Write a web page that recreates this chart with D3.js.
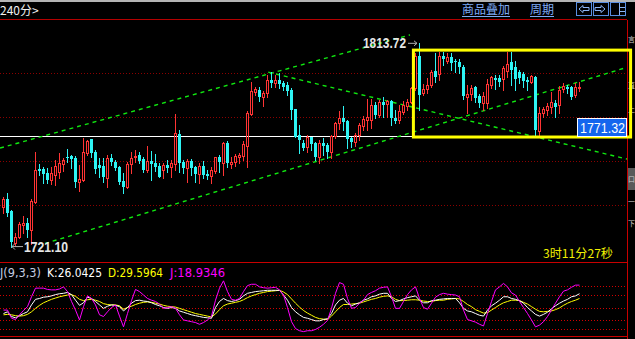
<!DOCTYPE html>
<html>
<head>
<meta charset="utf-8">
<script src="https://cdn.jsdelivr.net/npm/d3@7"></script>
<style>
  html, body { margin: 0; padding: 0; background: #000; }
  svg { display: block; }
</style>
</head>
<body>
<div id="chart"></div>
<script>
// 240 minute candles
const openP = [1739.1,1742.7,1737.3,1722.8,1725.6,1730.9,1731.9,1728.6,1741.5,1756.2,
  1756.5,1754.4,1751.4,1753.6,1755.1,1758.6,1761.7,1762.3,1761.5,1750.6,
  1751.4,1763.8,1769.9,1764.2,1758.2,1757.7,1752.1,1761.5,1759.7,1757.4,
  1750.9,1748.3,1758.6,1761.7,1762.9,1760.8,1755.9,1760.0,1758.9,1757.7,
  1755.9,1758.2,1757.1,1758.6,1772.3,1759.5,1756.7,1760.1,1757.1,1754.1,
  1757.7,1754.1,1753.2,1755.6,1761.9,1759.2,1768.3,1758.6,1759.7,1761.7,
  1762.3,1766.8,1781.2,1791.5,1792.3,1789.0,1791.0,1796.8,1795.6,1796.8,
  1795.6,1794.5,1792.3,1783.5,1771.8,1768.3,1766.5,1770.8,1768.3,1762.0,
  1768.3,1767.3,1764.2,1771.4,1777.1,1779.4,1778.2,1770.3,1768.8,1771.8,
  1775.9,1778.6,1778.6,1785.5,1780.9,1787.0,1785.8,1787.3,1779.7,1778.6,
  1782.4,1785.0,1787.0,1793.0,1807.7,1791.0,1792.6,1794.5,1800.9,1799.5,
  1807.7,1805.6,1807.4,1805.6,1805.1,1802.9,1789.2,1790.5,1793.5,1789.5,
  1786.2,1786.5,1794.5,1797.6,1797.6,1797.1,1801.0,1805.1,1802.9,1800.6,
  1799.5,1796.8,1796.0,1798.3,1773.8,1781.9,1783.2,1784.7,1786.5,1785.5,
  1792.6,1793.5,1793.5,1789.9,1793.0];
const highP = [1743.6,1745.5,1737.7,1727.3,1732.4,1735.0,1733.9,1742.7,1764.2,1758.6,
  1757.4,1756.7,1757.1,1760.5,1763.8,1761.2,1765.3,1762.7,1762.3,1758.2,
  1770.6,1769.6,1769.9,1765.0,1761.2,1761.2,1762.7,1763.2,1760.5,1757.7,
  1754.4,1759.7,1764.2,1765.0,1764.2,1761.9,1766.8,1764.5,1763.2,1758.9,
  1758.9,1760.5,1760.5,1781.4,1774.1,1760.5,1761.0,1760.8,1757.7,1758.9,
  1760.0,1755.9,1757.1,1761.9,1762.7,1768.8,1769.1,1761.9,1763.0,1763.5,
  1769.2,1782.9,1796.0,1793.8,1793.5,1791.8,1799.1,1800.6,1799.1,1799.9,
  1796.5,1795.8,1793.0,1783.7,1776.4,1769.6,1771.8,1771.0,1768.8,1769.6,
  1770.3,1768.0,1771.8,1777.9,1782.7,1785.0,1778.6,1771.0,1772.6,1777.1,
  1780.5,1788.0,1788.0,1787.0,1787.7,1789.2,1787.7,1787.7,1783.2,1785.5,
  1787.3,1788.0,1793.8,1808.9,1813.72,1795.0,1797.6,1801.4,1809.2,1809.7,
  1809.7,1809.2,1809.2,1806.2,1806.2,1803.6,1794.5,1794.5,1794.1,1790.5,
  1791.5,1797.1,1798.6,1799.1,1799.1,1803.2,1809.7,1809.7,1805.6,1801.4,
  1800.6,1798.0,1799.1,1798.6,1784.7,1784.7,1786.2,1791.5,1787.7,1794.1,
  1795.3,1794.5,1794.1,1795.6,1796.0];
const lowP = [1736.4,1735.0,1721.1,1721.8,1724.9,1727.2,1725.6,1722.3,1740.8,1753.6,
  1749.8,1749.8,1749.5,1749.1,1752.1,1755.6,1759.7,1756.7,1748.0,1746.5,
  1751.0,1762.7,1762.0,1754.4,1752.9,1750.6,1748.3,1758.2,1755.9,1749.5,
  1745.6,1747.6,1754.4,1759.7,1758.9,1755.1,1755.1,1751.4,1755.6,1752.6,
  1752.1,1755.1,1752.9,1755.9,1755.1,1754.5,1750.6,1753.6,1750.6,1749.8,
  1752.1,1751.8,1749.8,1754.4,1755.1,1753.6,1757.4,1756.7,1757.7,1758.9,
  1760.5,1757.4,1780.9,1790.0,1787.4,1785.1,1789.2,1793.8,1793.8,1793.0,
  1792.3,1790.0,1779.0,1770.8,1763.5,1765.0,1764.2,1765.0,1760.5,1758.9,
  1762.7,1761.2,1761.2,1770.3,1774.4,1774.1,1765.8,1766.5,1766.8,1769.6,
  1774.1,1774.1,1774.9,1779.4,1780.1,1780.1,1780.1,1776.4,1777.1,1777.4,
  1781.4,1783.2,1786.2,1792.3,1783.2,1790.0,1790.8,1793.8,1796.0,1796.8,
  1803.6,1804.4,1801.4,1800.6,1800.1,1788.0,1781.7,1787.7,1787.0,1784.7,
  1783.2,1784.0,1793.0,1792.6,1794.1,1792.3,1798.3,1794.5,1792.3,1795.3,
  1793.5,1792.3,1795.3,1771.8,1771.4,1780.1,1780.9,1781.7,1780.1,1781.7,
  1791.5,1790.8,1788.0,1788.9,1792.0];
const closeP = [1742.7,1736.4,1723.0,1725.6,1731.4,1731.9,1728.6,1741.9,1755.9,1755.6,
  1754.1,1751.4,1754.7,1757.7,1758.9,1760.5,1761.2,1760.8,1750.6,1751.8,
  1763.9,1769.1,1763.8,1756.4,1756.7,1752.9,1761.2,1759.7,1756.7,1750.6,
  1748.0,1758.6,1761.5,1762.3,1760.1,1755.9,1760.1,1758.6,1757.1,1752.9,
  1758.2,1756.7,1758.9,1772.7,1759.2,1756.8,1760.0,1756.7,1754.1,1757.7,
  1753.6,1753.2,1755.9,1761.7,1759.7,1768.3,1759.2,1759.7,1762.3,1762.7,
  1767.7,1781.9,1791.8,1792.7,1789.2,1791.0,1796.8,1795.6,1796.8,1795.0,
  1793.8,1791.9,1783.2,1771.0,1769.6,1765.8,1770.8,1767.7,1762.0,1768.3,
  1766.8,1764.2,1771.4,1777.1,1779.4,1777.9,1769.9,1768.8,1771.8,1776.4,
  1778.9,1780.1,1785.5,1780.9,1787.0,1785.5,1787.3,1779.4,1778.3,1782.9,
  1785.5,1787.0,1793.3,1807.7,1790.0,1792.6,1794.5,1800.6,1798.3,1807.7,
  1806.2,1807.1,1804.4,1805.1,1802.9,1789.5,1790.5,1793.0,1788.5,1786.2,
  1789.5,1795.0,1798.0,1796.8,1796.0,1802.1,1804.1,1801.4,1797.1,1797.6,
  1796.5,1796.0,1798.6,1774.1,1781.7,1783.5,1785.0,1786.9,1784.7,1792.3,
  1794.1,1792.6,1789.2,1793.8,1793.8];

// KDJ(9,3,3) values
const kVals = [36,40,29,26,31,36,40,56,69,71, 74,75,77,80,82,83,85,80,67,55,
  61,74,71,64,56,48,53,56,55,52, 42,50,60,66,67,65,64,61,57,54,
  50,48,50,48,42,39,36,33,31,29, 27,26,25,50,64,71,66,64,66,69,
  77,83,85,87,88,89,90,90,90,90, 79,67,50,40,33,27,25,22,19,19,
  22,24,36,56,67,71,60,54,58,61, 67,70,75,77,81,83,83,71,64,66,
  70,73,75,77,67,61,61,66,67,69, 70,71,71,71,61,48,42,40,36,32,
  30,44,54,60,67,75,75,71,69,66, 60,50,42,34,30,34,39,47,54,60,
  65,69,75,77,82];
const dVals = [33,34,33,31,30,31,34,40,48,55, 61,65,69,72,75,77,79,80,76,69,
  66,68,69,67,64,59,57,56,56,54, 46,50,53,57,60,62,63,62,60,58,
  55,53,52,51,48,45,42,39,36,34, 32,30,28,35,45,54,58,60,62,64,
  68,73,77,80,83,85,87,88,89,90, 86,80,70,60,51,43,37,32,27,24,
  23,22,30,40,50,57,57,58,59,60, 63,66,69,71,74,76,77,75,69,66,
  66,67,68,68,67,65,64,64,66,67, 67,69,70,71,70,64,57,52,45,41,
  37,38,44,50,56,61,64,67,67,66, 62,58,52,46,41,40,41,42,45,49,
  55,60,64,67,71];
const jVals = [44,44,25,22,33,43,52,75,95,95, 95,92,91,91,93,98,87,64,44,21,
  52,77,71,56,33,29,40,50,56,30, 5,36,66,92,87,79,71,67,64,58,
  48,50,52,48,33,21,19,17,15,11, 15,21,30,67,95,112,87,69,67,71,
  87,101,104,104,98,96,95,96,97,91, 79,50,17,1,-4,-6,-4,-4,-1,4,
  11,20,48,83,108,104,71,48,50,60, 67,80,85,89,95,97,98,75,48,48,
  64,80,91,98,71,50,46,60,74,80, 83,81,80,79,75,44,22,19,16,11,
  7,36,64,91,98,106,98,84,79,64, 50,36,21,5,9,17,29,44,60,75,
  88,91,97,102,102];

const priceGrid = [1800, 1780, 1760, 1740];
const kdjGrid = [100, 80, 50, 20, 0];

// hand drawn lines: [candle index, price]
const upperLine = [[-0.75, 1765.9], [101.75, 1817.3]];
const lowerLine = [[10.5, 1722.5], [155.5, 1802.3]];
const fallLine = [[66.3, 1800.4], [158, 1760.0]];
const boxRange = {i0: 102.6, i1: 156.9, p0: 1770.9, p1: 1810.4};

const crossPrice = 1771.32;
const highLabel = "1813.72";
const lowLabel = "1721.10";
const timerText = "3时11分27秒";
const periodText = "240分>";
const kdjTitle = "J(9,3,3)";
const kdjTexts = ["K:26.0425", "D:29.5964", "J:18.9346"];
const sideChars = [["言", 42], ["直", 88], ["上", 112], ["口", 182], ["一", 204], ["下", 226]];

const width = 635, height = 339;
const RED = "#ff3434", CYAN = "#2ef4f4";

const svg = d3.select("#chart").append("svg")
  .attr("width", width).attr("height", height)
  .style("background", "#000");

const x = d3.scaleLinear().domain([0, 144]).range([3, 579]);
const y = d3.scaleLinear().domain([1740, 1800]).range([205, 73]);
const yK = d3.scaleLinear().domain([0, 100]).range([329, 286]);

const defs = svg.append("defs");
defs.append("clipPath").attr("id", "mainClip")
  .append("rect").attr("x", 0).attr("y", 20).attr("width", 627).attr("height", 242);
defs.append("clipPath").attr("id", "kdjClip")
  .append("rect").attr("x", 0).attr("y", 263).attr("width", 627).attr("height", 73);

// frame
svg.append("rect").attr("x", 0).attr("y", 0).attr("width", width).attr("height", 2).attr("fill", "#b4b4b4");
const frame = svg.append("g").attr("shape-rendering", "crispEdges");
frame.append("line").attr("x1", 0).attr("x2", 627).attr("y1", 19.5).attr("y2", 19.5).attr("stroke", "#b40000");
frame.append("line").attr("x1", 0).attr("x2", 627).attr("y1", 262.5).attr("y2", 262.5).attr("stroke", "#c80000");
frame.append("line").attr("x1", 0).attr("x2", 627).attr("y1", 336.5).attr("y2", 336.5).attr("stroke", "#c80000");
frame.append("line").attr("x1", 627.5).attr("x2", 627.5).attr("y1", 20).attr("y2", height).attr("stroke", "#c80000");

// grid
frame.selectAll("line.pg").data(priceGrid).join("line")
  .attr("x1", 0).attr("x2", 627)
  .attr("y1", d => Math.round(y(d)) + 0.5).attr("y2", d => Math.round(y(d)) + 0.5)
  .attr("stroke", "#8c0000").attr("stroke-dasharray", "1,2");
frame.selectAll("line.kg").data(kdjGrid).join("line")
  .attr("x1", 0).attr("x2", 627)
  .attr("y1", d => Math.round(yK(d)) + 0.5).attr("y2", d => Math.round(yK(d)) + 0.5)
  .attr("stroke", "#d20000").attr("stroke-dasharray", "1,2");

// top bar
svg.append("text").attr("x", 0).attr("y", 15).text(periodText)
  .attr("fill", "#f0f0f0").attr("font-size", 12).attr("font-family", "'Noto Sans CJK SC', sans-serif");
const menu = svg.append("g").attr("font-family", "'Noto Sans CJK SC', sans-serif").attr("font-size", 12).attr("fill", "#7eaaf4");
menu.append("text").attr("x", 462).attr("y", 14).text("商品叠加");
menu.append("text").attr("x", 530).attr("y", 14).text("周期");
menu.append("line").attr("x1", 462).attr("x2", 510).attr("y1", 16.5).attr("y2", 16.5).attr("stroke", "#7eaaf4");
menu.append("line").attr("x1", 530).attr("x2", 554).attr("y1", 16.5).attr("y2", 16.5).attr("stroke", "#7eaaf4");
const icons = svg.append("g").attr("fill", "none").attr("stroke", "#5a8ee0").attr("shape-rendering", "crispEdges");
[576, 593, 610].forEach(ix => icons.append("rect").attr("x", ix + 0.5).attr("y", 2.5).attr("width", 15).attr("height", 13));
icons.append("path").attr("d", "M579,9 L583,5.5 L583,7.5 L589,7.5 L589,10.5 L583,10.5 L583,12.5 Z")
  .attr("stroke", "#8cb4f4").attr("shape-rendering", "auto");
icons.append("path").attr("d", "M605,9 L601,5.5 L601,7.5 L595,7.5 L595,10.5 L601,10.5 L601,12.5 Z")
  .attr("stroke", "#8cb4f4").attr("shape-rendering", "auto");
icons.append("path").attr("d", "M619.5,3 V15 M620,7.5 H625 M620,11.5 H625").attr("stroke", "#8cb4f4");

// right side strip (mostly off screen)
const side = svg.append("g");
side.append("rect").attr("x", 628).attr("y", 168).attr("width", 7).attr("height", 22).attr("fill", "#5a5a5a");
side.selectAll("text").data(sideChars).join("text")
  .attr("x", 628).attr("y", d => d[1]).text(d => d[0])
  .attr("fill", "#cccccc").attr("font-size", 7).attr("font-family", "'Noto Sans CJK SC', sans-serif");

// main panel
const main = svg.append("g").attr("clip-path", "url(#mainClip)");

// crosshair price line
main.append("line").attr("x1", 0).attr("x2", 577)
  .attr("y1", Math.round(y(crossPrice)) + 0.5).attr("y2", Math.round(y(crossPrice)) + 0.5)
  .attr("stroke", "#ffffff").attr("shape-rendering", "crispEdges");

// trend lines
const tl = d3.line().x(d => x(d[0])).y(d => y(d[1]));
main.selectAll("path.trend").data([upperLine, lowerLine, fallLine]).join("path")
  .attr("d", tl).attr("fill", "none").attr("stroke", "#10e810")
  .attr("stroke-width", 1.4).attr("stroke-dasharray", "4,4");

// candles
const candles = d3.range(openP.length).map(i => ({i, o: openP[i], h: highP[i], l: lowP[i], c: closeP[i]}));
const cg = main.append("g").attr("shape-rendering", "crispEdges");
candles.forEach(d => {
  const cx = Math.round(x(d.i));
  const up = d.c >= d.o;
  const top = Math.round(y(Math.max(d.o, d.c)));
  const bot = Math.round(y(Math.min(d.o, d.c)));
  const hy = Math.round(y(d.h)), ly = Math.round(y(d.l));
  const col = up ? RED : CYAN;
  if (up) {
    cg.append("line").attr("x1", cx + 0.5).attr("x2", cx + 0.5).attr("y1", hy).attr("y2", top).attr("stroke", col);
    cg.append("line").attr("x1", cx + 0.5).attr("x2", cx + 0.5).attr("y1", bot + 1).attr("y2", ly + 1).attr("stroke", col);
    if (bot - top < 2) {
      cg.append("rect").attr("x", cx - 1).attr("y", top).attr("width", 3).attr("height", Math.max(1, bot - top + 1)).attr("fill", col);
    } else {
      cg.append("rect").attr("x", cx - 0.5).attr("y", top + 0.5).attr("width", 2).attr("height", bot - top)
        .attr("fill", "none").attr("stroke", col);
    }
  } else {
    cg.append("line").attr("x1", cx + 0.5).attr("x2", cx + 0.5).attr("y1", hy).attr("y2", ly + 1).attr("stroke", col);
    cg.append("rect").attr("x", cx - 1).attr("y", top).attr("width", 3).attr("height", Math.max(1, bot - top)).attr("fill", col);
  }
});

// yellow box (runs over the right border)
svg.append("rect")
  .attr("x", x(boxRange.i0)).attr("y", y(boxRange.p1))
  .attr("width", x(boxRange.i1) - x(boxRange.i0)).attr("height", y(boxRange.p0) - y(boxRange.p1))
  .attr("fill", "none").attr("stroke", "#ffff00").attr("stroke-width", 3);

// high / low marks
const hiIdx = highP.indexOf(d3.max(highP));
const loIdx = lowP.indexOf(d3.min(lowP));
const hx = x(hiIdx), hyy = y(highP[hiIdx]);
main.append("text").attr("x", hx - 56).attr("y", hyy + 5).text(highLabel)
  .attr("textLength", 43).attr("lengthAdjust", "spacingAndGlyphs")
  .attr("fill", "#e6e6e6").attr("font-size", 14).attr("font-weight", "bold").attr("font-family", "'Liberation Sans', Arial, sans-serif");
main.append("path").attr("d", `M${hx - 11},${hyy + 0.5} H${hx - 2} M${hx - 5},${hyy - 2} L${hx - 2},${hyy + 0.5} L${hx - 5},${hyy + 3}`)
  .attr("stroke", "#b0b0b0").attr("fill", "none");
const lx = x(loIdx), lyy = y(lowP[loIdx]);
main.append("path").attr("d", `M${lx + 1},${lyy} H${lx + 12} M${lx + 4},${lyy - 3} L${lx + 1},${lyy} L${lx + 4},${lyy + 3}`)
  .attr("stroke", "#b0b0b0").attr("fill", "none");
main.append("text").attr("x", lx + 13).attr("y", lyy + 5).text(lowLabel)
  .attr("textLength", 44).attr("lengthAdjust", "spacingAndGlyphs")
  .attr("fill", "#e6e6e6").attr("font-size", 14).attr("font-weight", "bold").attr("font-family", "'Liberation Sans', Arial, sans-serif");

// price tag
const tagY = Math.round(y(crossPrice));
svg.append("rect").attr("x", 577.5).attr("y", tagY - 17.5).attr("width", 49).attr("height", 18)
  .attr("fill", "#1466ee").attr("stroke", "#ffffff").attr("shape-rendering", "crispEdges");
svg.append("text").attr("x", 580).attr("y", tagY - 3).text(crossPrice.toFixed(2))
  .attr("textLength", 45).attr("lengthAdjust", "spacingAndGlyphs")
  .attr("fill", "#ffffff").attr("font-size", 14).attr("font-family", "'Liberation Sans', Arial, sans-serif");

// countdown
svg.append("text").attr("x", 543).attr("y", 258).text(timerText)
  .attr("textLength", 70).attr("lengthAdjust", "spacingAndGlyphs")
  .attr("fill", "#f0f000").attr("font-size", 12).attr("font-family", "'Noto Sans CJK SC', sans-serif");

// KDJ panel
const kdj = svg.append("g").attr("clip-path", "url(#kdjClip)");
const kl = d3.line().x((d, i) => x(i) + 0.5).y(d => yK(d));
kdj.append("path").attr("d", kl(dVals)).attr("fill", "none").attr("stroke", "#ffff00");
kdj.append("path").attr("d", kl(kVals)).attr("fill", "none").attr("stroke", "#ffffff");
kdj.append("path").attr("d", kl(jVals)).attr("fill", "none").attr("stroke", "#ff00ff");

const lab = svg.append("g").attr("font-size", 12).attr("font-family", "'DejaVu Sans', sans-serif");
lab.append("text").attr("x", 0).attr("y", 277).text(kdjTitle).attr("fill", "#c4cce0")
  .attr("textLength", 41).attr("lengthAdjust", "spacingAndGlyphs");
const labCols = ["#ffffff", "#ffff00", "#ff00ff"];
const labX = [47, 108, 170];
kdjTexts.forEach((t, i) => lab.append("text").attr("x", labX[i]).attr("y", 277).text(t).attr("fill", labCols[i])
  .attr("textLength", 55).attr("lengthAdjust", "spacingAndGlyphs"));
</script>
</body>
</html>
